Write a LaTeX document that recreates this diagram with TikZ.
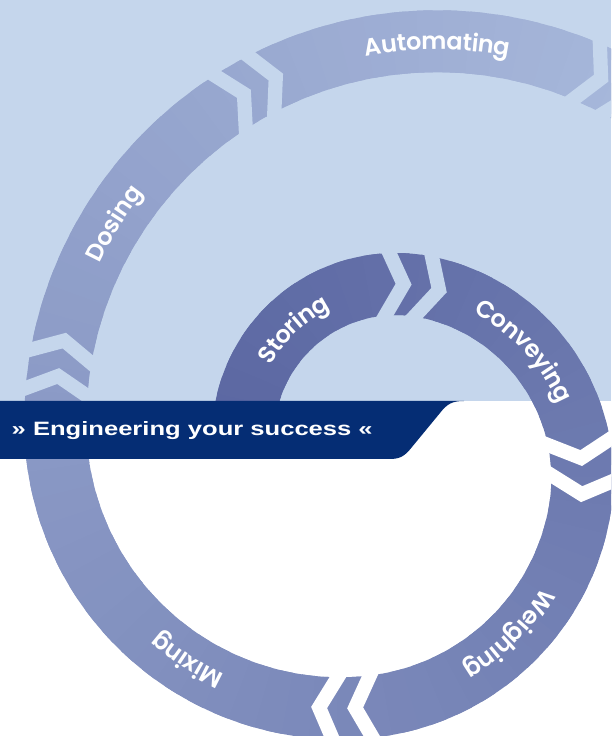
\documentclass[tikz,border=0pt]{standalone}
\usepackage{fontspec}
\usepackage{graphicx}
\usetikzlibrary{decorations.text,calc}
\newfontfamily\labfam{Poppins SemiBold}
\newfontfamily\banfam{Liberation Sans}
\definecolor{bglight}{RGB}{197,214,236}
\definecolor{navy}{RGB}{5,45,116}
\definecolor{bandA}{RGB}{91,103,162}
\definecolor{bandB}{RGB}{174,191,224}
\newcommand\labfont{\labfam\fontsize{24}{24}\selectfont}
% chevron gap: centre x, centre y, radius, screen angle, colour
\newcommand\chev[5]{\begin{scope}[shift={(#1,#2)},rotate={-(#4)}]
  \draw[gapline,#5] ({#3+42},21.8) -- (#3,0) -- ({#3-42},21.8);
\end{scope}}
% label along an arc: centre x, centre y, radius, screen angle, text
\newcommand\lab[5]{\path[decorate,decoration={text along path,text={|\labfont|#5},text align=center,raise=-8.5pt,text color=white}]
  ($(#1,#2)+({-(#4)+30}:#3)$) arc[start angle={-(#4)+30},end angle={-(#4)-30},radius=#3];}
\begin{document}
\begin{tikzpicture}[x=1pt,y=1pt,
  gapline/.style={line width=14.2pt,line join=miter,miter limit=20}]
\useasboundingbox (0,0) rectangle (611,736);
\clip (0,0) rectangle (611,736);
\fill[white] (0,0) rectangle (611,736);
\fill[bglight] (0,335) rectangle (611,736);
% spiral band
\def\spiralpath{(243.582,285.665)
  arc[start angle=-175,end angle=-282.5,radius=153]
  arc[start angle=-282.5,end angle=-371.5,radius=195.5]
  arc[start angle=-371.5,end angle=-444,radius=238]
  arc[start angle=-444,end angle=-540,radius=285]
  arc[start angle=-540,end angle=-690,radius=382]}
\foreach \i in {0,...,95}{
  \pgfmathsetmacro{\sst}{\i*25}
  \pgfmathsetmacro{\pct}{\i*100/95}
  \colorlet{segc}{bandB!\pct!bandA}
  \draw[segc,line width=62pt,dash pattern=on 0pt off \sst pt on 40pt off 5000pt] \spiralpath;
}
% chevron gaps between the steps
\chev{396}{299}{153}{272.85}{bglight}
\chev{386.801}{257.507}{195.5}{285.5}{bglight}
\chev{386.801}{257.507}{195.5}{354.0}{white}
\chev{386.801}{257.507}{195.5}{364.6}{white}
\chev{340.241}{312.723}{285}{87.0}{white}
\chev{340.241}{312.723}{285}{94.25}{white}
\chev{437.241}{312.723}{382}{187.1}{bglight}
\chev{437.241}{312.723}{382}{192.5}{bglight}
\chev{437.241}{312.723}{382}{239.6}{bglight}
\chev{437.241}{312.723}{382}{245.0}{bglight}
\chev{437.241}{312.723}{382}{295.4}{bglight}
\chev{437.241}{312.723}{382}{300.8}{bglight}
% labels
\lab{396}{299}{153}{226.4}{Storing}
\lab{386.801}{257.507}{195.5}{317.1}{Conveying}
\lab{345.154}{265.980}{238}{45}{Weighing}
\lab{340.241}{312.723}{285}{122.9}{Mixing}
\lab{437.241}{312.723}{382}{211.7}{Dosing}
\lab{437.241}{312.723}{382}{270}{Automating}
% banner
\fill[navy] (-5,277) -- (390,277) .. controls (400,277) and (405,280) .. (412,289)
  -- (440,323) .. controls (447,332) and (452,335) .. (464,335) -- (-5,335) -- cycle;
\node[anchor=base west,inner sep=0pt,text=white] (tagline) at (11.5,300)
  {\resizebox{361pt}{14pt}{\banfam\bfseries » Engineering your success «}};
\end{tikzpicture}
\end{document}
